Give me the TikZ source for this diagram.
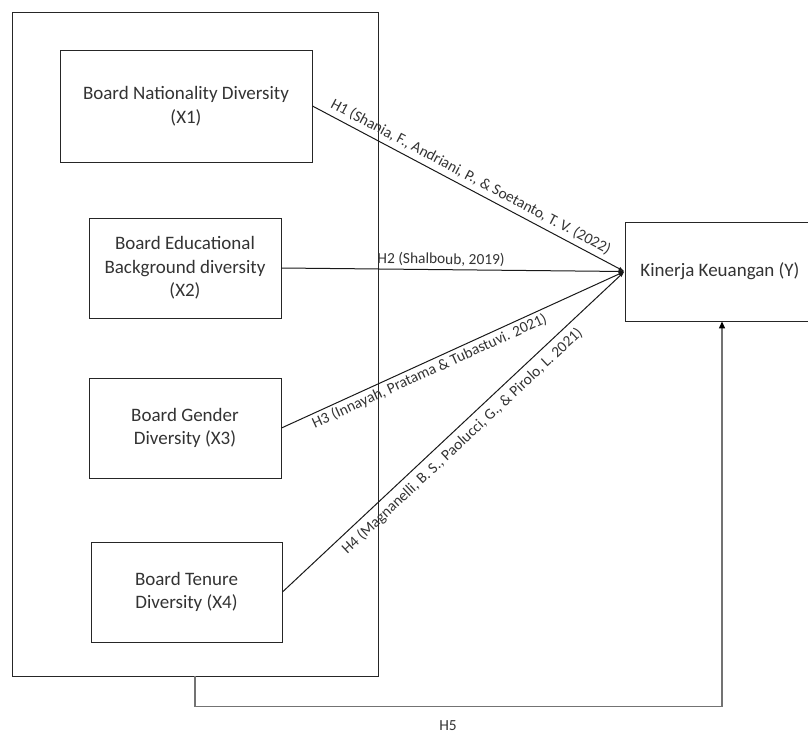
\documentclass[tikz,border=0pt]{standalone}
\usepackage{fontspec}
\setmainfont{Carlito}
\usetikzlibrary{arrows.meta,calc}
\begin{document}
\begin{tikzpicture}[x=1pt,y=-1pt,
  box/.style={draw=black!85, line width=0.9pt, align=center, inner sep=2pt,
    font=\fontsize{19}{23.5}\selectfont, text=black!80},
  link/.style={draw=black!90, line width=1pt, -{Latex[length=6pt,width=4pt]}},
  lab/.style={font=\fontsize{15.4}{18}\selectfont, text=black!80, sloped, inner sep=1.5pt},
  hfive/.style={draw=black!55, line width=1.3pt, -{Triangle[length=7pt,width=6pt,color=black]}},
]
\useasboundingbox (0,0) rectangle (808,736);
\node[box, minimum width=366pt, minimum height=664pt] (grp) at (195,344) {};
\node[box, minimum width=252pt, minimum height=112pt] (x1) at (186,106) {Board Nationality Diversity\\(X1)};
\node[box, minimum width=192pt, minimum height=100pt] (x2) at (185,268) {Board Educational\\Background diversity\\(X2)};
\node[box, minimum width=192pt, minimum height=100pt] (x3) at (185,428) {Board Gender\\Diversity (X3)};
\node[box, minimum width=191pt, minimum height=100pt] (x4) at (186.5,592) {Board Tenure\\Diversity (X4)};
\node[box, minimum width=194pt, minimum height=99pt] (y) at (722,271.5) {Kinerja Keuangan (Y)\hspace*{4pt}};

\draw[link] (x1.east) -- (y.west)
  node[lab, above=3pt, pos=0.49] {H1 (Shania, F., Andriani, P., \& Soetanto, T. V. (2022)};
\draw[link] (x2.east) -- (y.west)
  node[lab, above=1.5pt, pos=0.465] {H2 (Shalboub, 2019)};
\draw[link] (x3.east) -- (y.west)
  node[lab, below=1pt, pos=0.42] {H3 (Innayah, Pratama \& Tubastuvi. 2021)};
\draw[link] (x4.east) -- (y.west)
  node[lab, below=4pt, pos=0.5] {H4 (Magnanelli, B. S., Paolucci, G., \& Pirolo, L. 2021)};

\draw[hfive] (grp.south) -- ++(0,30) coordinate (c1) -- (c1 -| y.south) -- (y.south);
\node[font=\fontsize{15.4}{18}\selectfont, text=black!80] (h5) at (448,726) {H5};
\end{tikzpicture}
\end{document}
